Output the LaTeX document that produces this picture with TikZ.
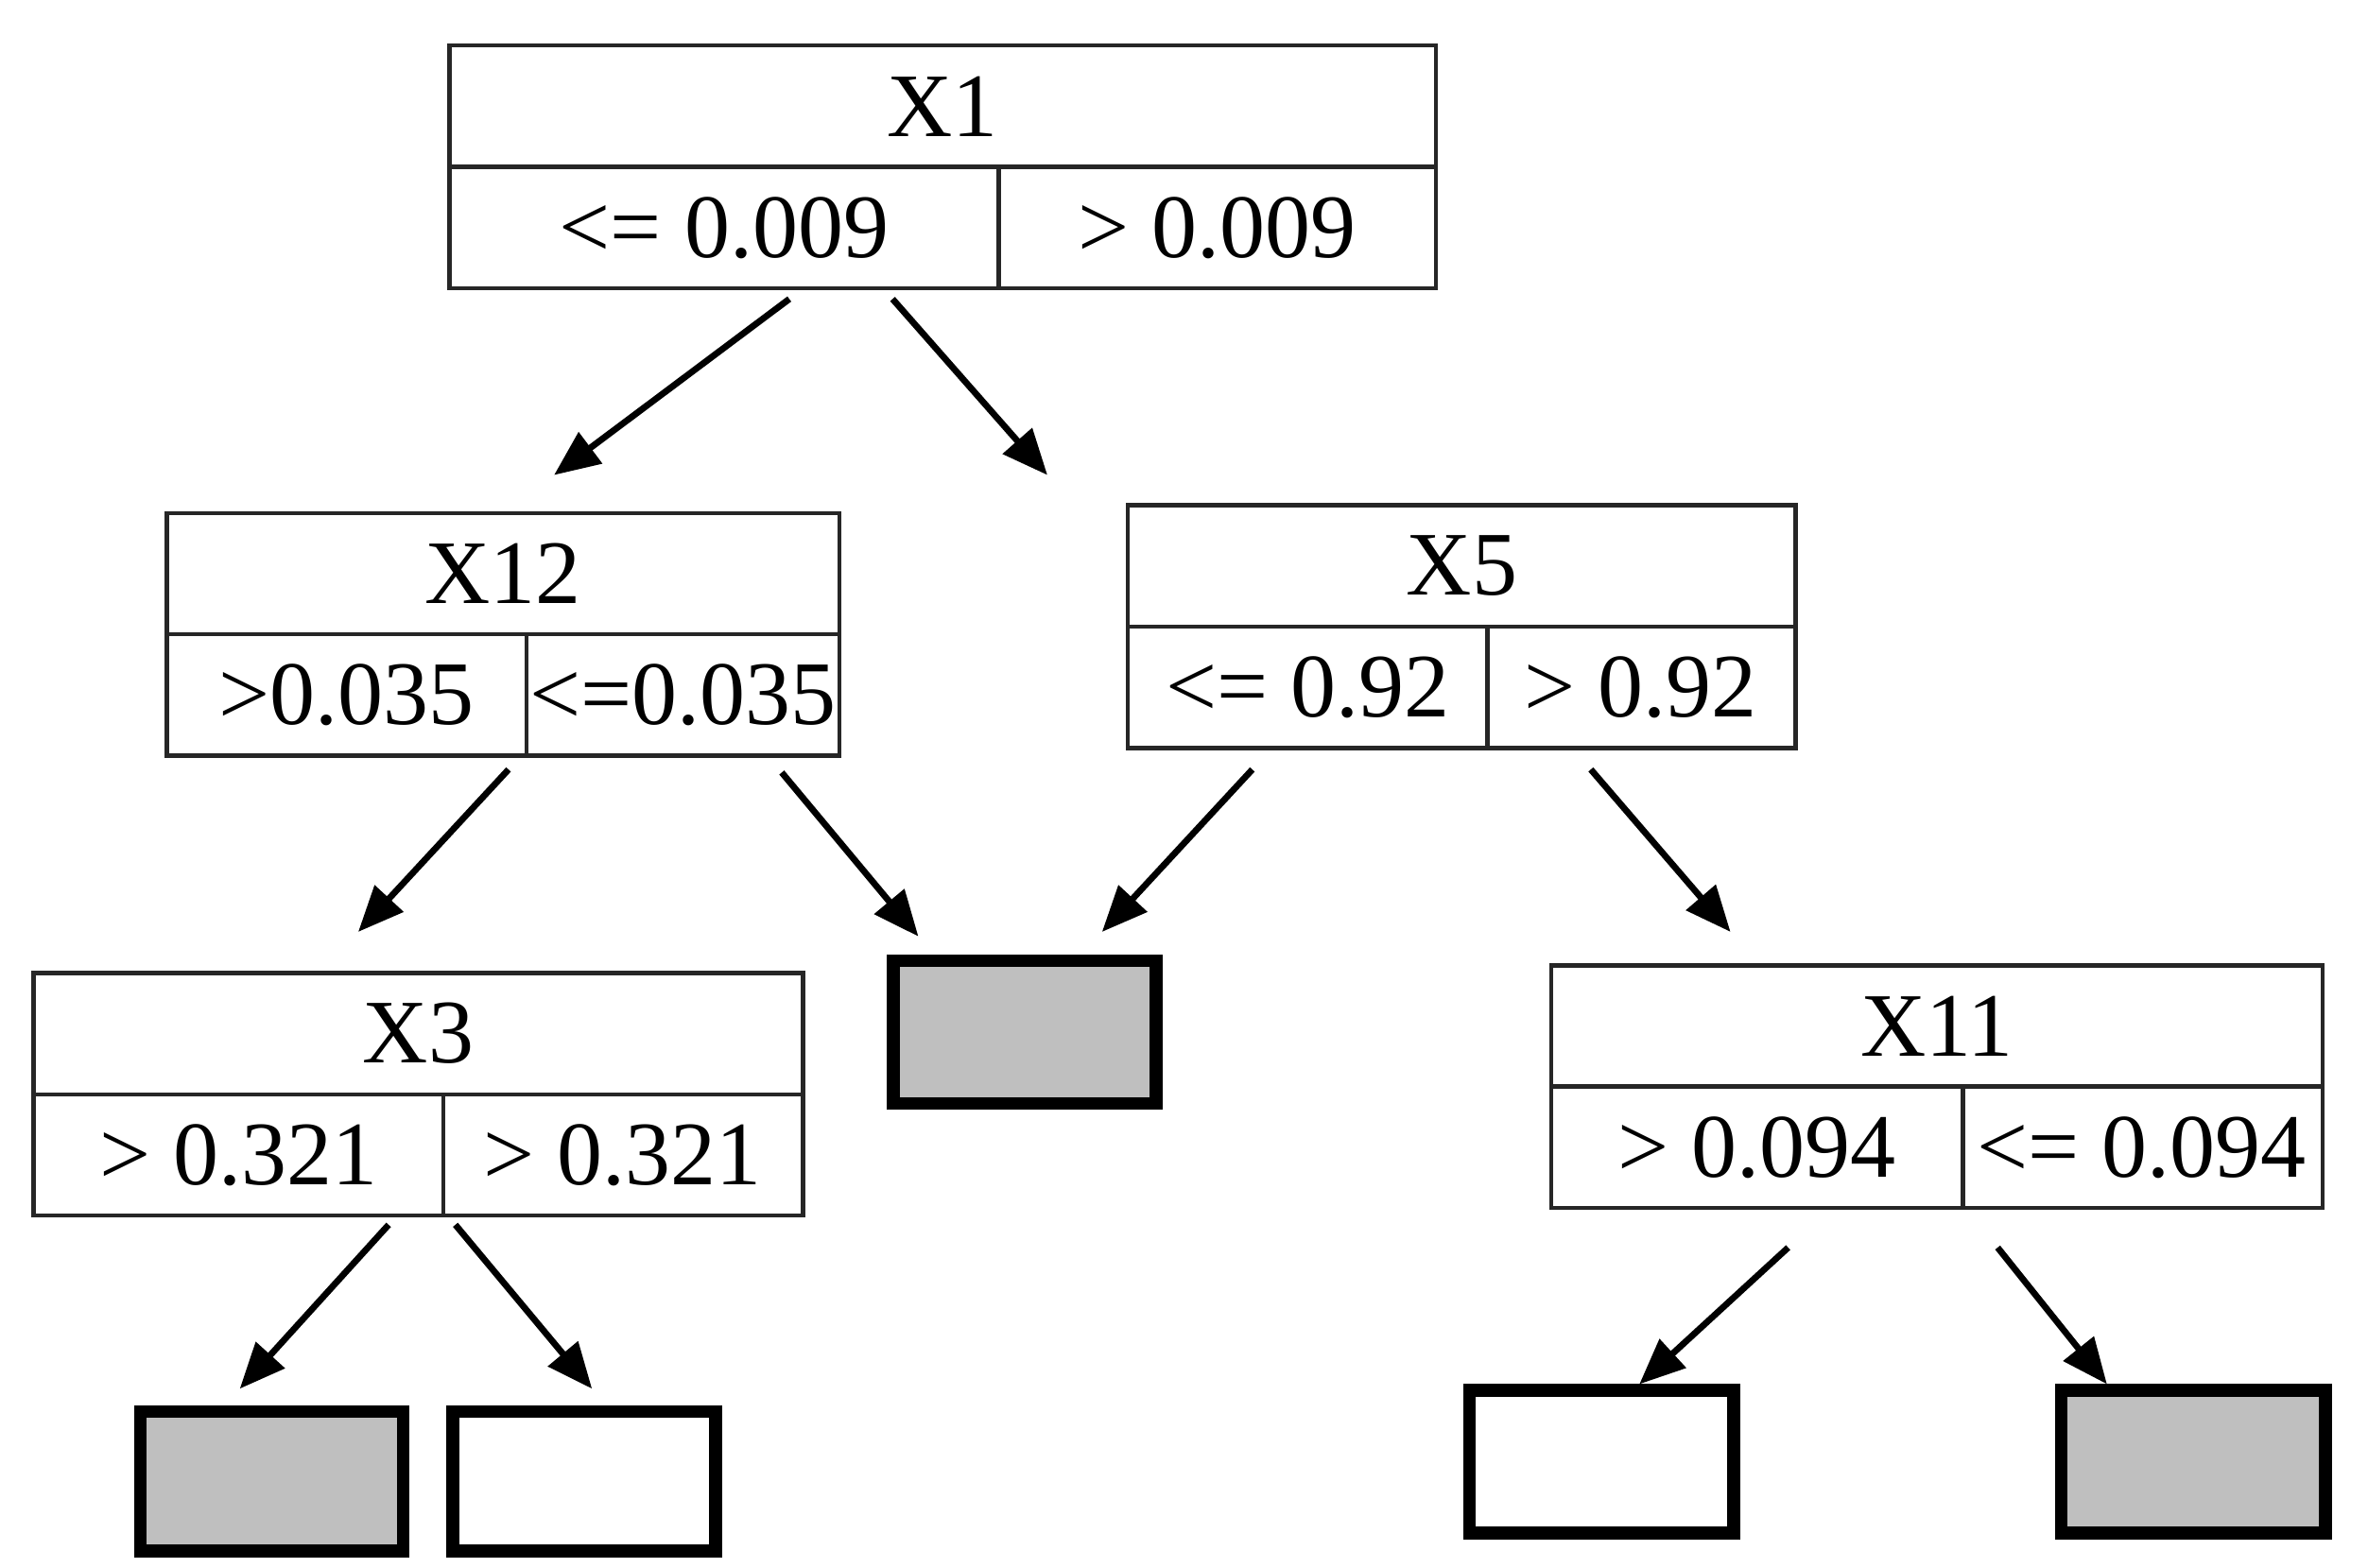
\documentclass[tikz,border=0pt]{standalone}
\usepackage{fontspec}
\setmainfont{Liberation Serif}
\usetikzlibrary{arrows.meta}
\tikzset{
  bx/.style={draw=black!85,line width=0.8pt},
  lab/.style={font=\fontsize{17}{20}\selectfont,inner sep=0pt},
  leaf/.style={draw=black,line width=2.4pt,inner sep=0pt},
  arr/.style={line width=1.2pt,-{Triangle[length=0.3cm,width=0.25cm]}}
}
\newcommand{\tbox}[9]{%
  \draw[bx] (#2,#3) rectangle (#4,#5);
  \draw[bx] (#2,#6) -- (#4,#6);
  \draw[bx] (#7,#6) -- (#7,#5);
  \node[lab] (#1t) at ({(#2+#4)/2},{(#3+#6)/2}) {#8};
  \node[lab] (#1l) at ({(#2+#7)/2},{(#6+#5)/2}) {#9};
}
\newcommand{\rlab}[5]{\node[lab] (#1r) at ({(#2+#3)/2},{(#4+#5)/2}) {};}
\begin{document}
\begin{tikzpicture}[x=0.01cm,y=-0.01cm]
\useasboundingbox (0,0) rectangle (1560,1033);
\tbox{a}{296}{30}{946}{190}{110}{658}{X1}{<= 0.009}
\node[lab] (ar) at (802,150) {> 0.009};
\tbox{b}{110}{338}{553}{498}{418}{347}{X12}{>0.035}
\node[lab] (br) at (450,458) {<=0.035};
\tbox{c}{743}{333}{1183}{493}{413}{980}{X5}{<= 0.92}
\node[lab] (cr) at (1081,453) {> 0.92};
\tbox{d}{22}{641}{529}{801}{721}{292}{X3}{> 0.321}
\node[lab] (dr) at (410,761) {> 0.321};
\tbox{e}{1022}{636}{1530}{796}{716}{1293}{X11}{> 0.094}
\node[lab] (er) at (1411,756) {<= 0.094};
\node[leaf,fill=black!25,minimum width=1.73cm,minimum height=0.94cm] (l1) at (675,680) {};
\node[leaf,fill=black!25,minimum width=1.73cm,minimum height=0.92cm] (l2) at (179,976) {};
\node[leaf,fill=white,minimum width=1.73cm,minimum height=0.92cm] (l3) at (385,976) {};
\node[leaf,fill=white,minimum width=1.74cm,minimum height=0.94cm] (l4) at (1055,963) {};
\node[leaf,fill=black!25,minimum width=1.74cm,minimum height=0.94cm] (l5) at (1445,963) {};
\coordinate (s1) at (520,197); \coordinate (e1) at (365,313);
\coordinate (s2) at (588,197); \coordinate (e2) at (690,313);
\coordinate (s3) at (335,507); \coordinate (e3) at (236,614);
\coordinate (s4) at (515,509); \coordinate (e4) at (605,617);
\coordinate (s5) at (825,507); \coordinate (e5) at (726,614);
\coordinate (s6) at (1048,507); \coordinate (e6) at (1140,614);
\coordinate (s7) at (256,807); \coordinate (e7) at (158,915);
\coordinate (s8) at (300,807); \coordinate (e8) at (390,915);
\coordinate (s9) at (1178,822); \coordinate (e9) at (1080,912);
\coordinate (s10) at (1316,822); \coordinate (e10) at (1388,912);
\foreach \i in {1,...,10} {\draw[arr] (s\i) -- (e\i);}
\end{tikzpicture}
\end{document}
